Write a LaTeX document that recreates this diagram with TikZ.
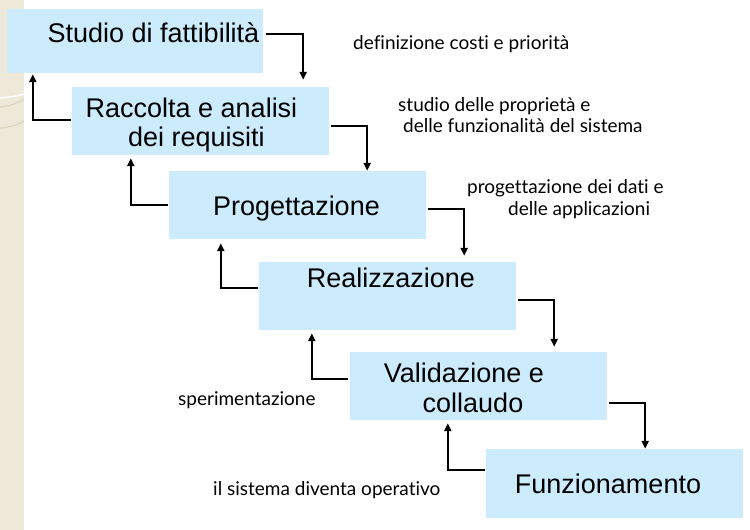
\documentclass[tikz,border=0pt]{standalone}
\usepackage{fontspec}
\setmainfont{Liberation Sans}
\newfontfamily\notefont[Ligatures=NoCommon]{Lato}
\usetikzlibrary{arrows.meta}
\definecolor{boxblue}{RGB}{204,235,252}
\definecolor{strip}{RGB}{237,232,216}
\definecolor{stripline}{RGB}{220,212,190}
\tikzset{
  stepbox/.style={draw=none, fill=boxblue, inner sep=0pt},
  big/.style={font=\fontsize{27}{31}\selectfont, inner sep=0pt, anchor=base},
  note/.style={font=\notefont\fontsize{19}{22}\selectfont, inner sep=0pt, anchor=base west},
  arr/.style={line width=2.3pt, -{Triangle[length=8pt,width=7pt]}}
}
\begin{document}
\begin{tikzpicture}[x=1pt,y=-1pt]
\useasboundingbox (0,0) rectangle (750,530);
\fill[white] (0,0) rectangle (750,530);
% decorative strip
\fill[strip] (0,0) rectangle (24,530);
\begin{scope}
\clip (0,0) rectangle (24,530);
\draw[stripline, line width=1.2pt] (-200,43) arc[start angle=90, end angle=60, radius=230];
\draw[white, line width=1.5pt] (0,98) .. controls (10,97) and (18,96) .. (24,94);
\draw[stripline, line width=1.2pt] (0,107) .. controls (10,106) and (18,103) .. (24,99);
\draw[stripline, line width=1.2pt] (0,128) .. controls (10,127) and (18,125) .. (24,121);
\end{scope}
% boxes
\node[stepbox, minimum width=256pt, minimum height=64pt] (b1) at (135,41) {};
\node[stepbox, minimum width=257pt, minimum height=68pt] (b2) at (200.5,121) {};
\node[stepbox, minimum width=257pt, minimum height=68pt] (b3) at (297.5,205) {};
\node[stepbox, minimum width=257pt, minimum height=68pt] (b4) at (387.5,296) {};
\node[stepbox, minimum width=257pt, minimum height=68pt] (b5) at (478.5,386) {};
\node[stepbox, minimum width=257pt, minimum height=69pt] (b6) at (614.5,483.5) {};
% box texts
\node[big] (t1) at (153.5,42) {Studio di fattibilità};
\node[big] (t2a) at (191.5,117) {Raccolta e analisi};
\node[big] (t2b) at (196.5,146) {dei requisiti};
\node[big] (t3) at (296.5,215) {Progettazione};
\node[big] (t4) at (391,287) {Realizzazione};
\node[big] (t5a) at (464,382) {Validazione e};
\node[big] (t5b) at (473,412) {collaudo};
\node[big] (t6) at (608,493) {Funzionamento};
% notes
\node[note] (n1) at (353,49) {definizione costi e priorità};
\node[note] (n2a) at (398,111) {studio delle proprietà e};
\node[note] (n2b) at (403,132) {delle funzionalità del sistema};
\node[note] (n3a) at (467,193) {progettazione dei dati e};
\node[note] (n3b) at (508,215) {delle applicazioni};
\node[note] (n4) at (178,405) {sperimentazione};
\node[note] (n5) at (213,495) {il sistema diventa operativo};
% forward connectors
\draw[arr] ([xshift=3pt,yshift=7pt]b1.east) -| ([xshift=-26pt,yshift=7pt]b2.north east);
\draw[arr] ([xshift=2pt,yshift=-5pt]b2.east) -| ([xshift=-59pt]b3.north east);
\draw[arr] ([xshift=2pt,yshift=-4pt]b3.east) -| ([xshift=-52pt,yshift=6pt]b4.north east);
\draw[arr] ([xshift=2pt,yshift=-4pt]b4.east) -| ([xshift=-53pt,yshift=5pt]b5.north east);
\draw[arr] ([xshift=2pt,yshift=-17pt]b5.east) -| ([xshift=-98pt,yshift=0pt]b6.north east);
% backward connectors
\draw[arr] ([xshift=-1pt,yshift=1pt]b2.west) -| ([xshift=26pt,yshift=-1pt]b1.south west);
\draw[arr] ([xshift=-1pt]b3.west) -| ([xshift=59pt,yshift=-3pt]b2.south west);
\draw[arr] ([xshift=-1pt,yshift=8pt]b4.west) -| ([xshift=52pt,yshift=-4pt]b3.south west);
\draw[arr] ([xshift=-2pt,yshift=7pt]b5.west) -| ([xshift=53pt,yshift=-3pt]b4.south west);
\draw[arr] ([xshift=-1pt,yshift=13.5pt]b6.west) -| ([xshift=98pt,yshift=-3pt]b5.south west);
\end{tikzpicture}
\end{document}
